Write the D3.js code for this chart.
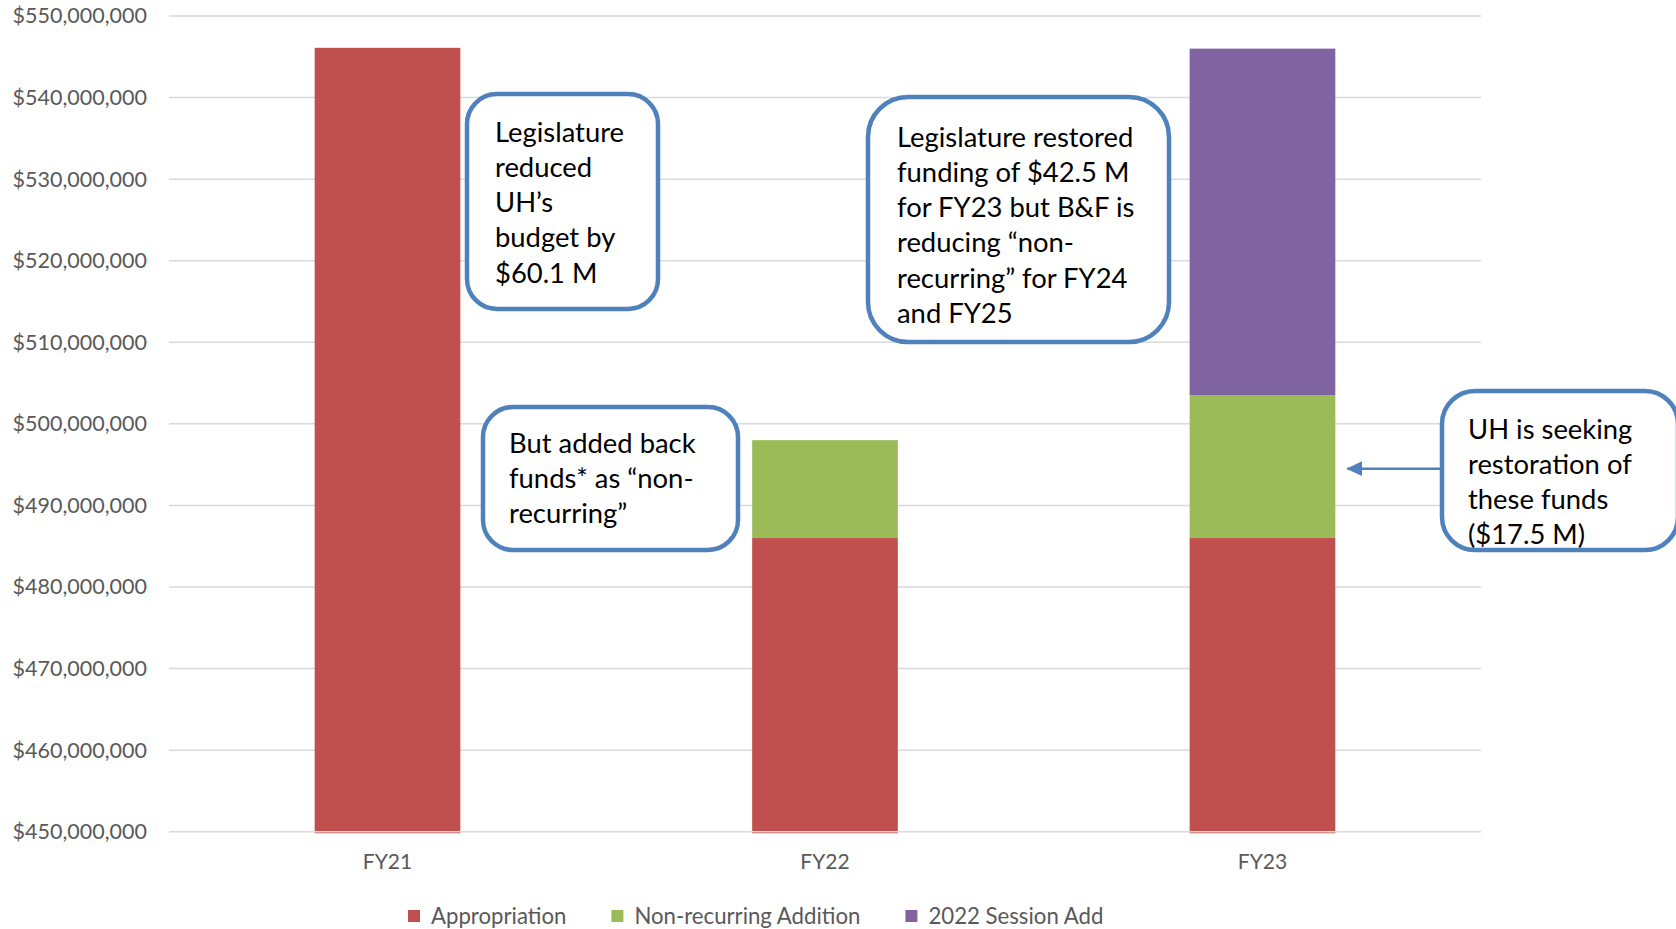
<!DOCTYPE html>
<html>
<head>
<meta charset="utf-8">
<script src="https://cdn.jsdelivr.net/npm/d3@7"></script>
<style>
  html, body { margin: 0; padding: 0; background: #fff; }
  svg { display: block; }
  text { font-family: Lato, "Open Sans", sans-serif; }
</style>
</head>
<body>
<svg id="chart" width="1676" height="929"></svg>
<script>
// ---- data (values in millions of dollars) ----
const categories = ["FY21", "FY22", "FY23"];
const appropriation = [546.1, 486.0, 486.0];
const nonRecurring = [0, 12.0, 17.5];
const sessionAdd = [0, 0, 42.5];
const seriesNames = ["Appropriation", "Non-recurring Addition", "2022 Session Add"];
const yTicks = [450, 460, 470, 480, 490, 500, 510, 520, 530, 540, 550];

const callout1 = ["Legislature", "reduced", "UH\u2019s", "budget by", "$60.1 M"];
const callout2 = ["Legislature restored", "funding of $42.5 M", "for FY23 but B&F is", "reducing \u201cnon-", "recurring\u201d for FY24", "and FY25"];
const callout3 = ["But added back", "funds* as \u201cnon-", "recurring\u201d"];
const callout4 = ["UH is seeking", "restoration of", "these funds", "($17.5 M)"];

// ---- layout ----
const colors = ["#C0504D", "#9BBB59", "#8064A2"];
const plot = { left: 169, right: 1481, top: 16, bottom: 831.7 };

const svg = d3.select("#chart");

const x = d3.scaleBand().domain(categories)
  .range([plot.left, plot.right]).paddingInner(0.667).paddingOuter(0.333);
const y = d3.scaleLinear().domain([450, 550]).range([plot.bottom, plot.top]);

// gridlines
svg.append("g").selectAll("line").data(yTicks.slice(1)).join("line")
  .attr("x1", plot.left).attr("x2", plot.right)
  .attr("y1", d => y(d)).attr("y2", d => y(d))
  .attr("stroke", "#D9D9D9").attr("stroke-width", 1.5);

// y axis labels
const yAxis = d3.axisLeft(y).tickValues(yTicks)
  .tickFormat(d => "$" + d3.format(",")(d * 1e6)).tickSize(0).tickPadding(0);
const yg = svg.append("g").attr("transform", `translate(147,0)`).call(yAxis);
yg.select(".domain").remove();
yg.selectAll("text").attr("fill", "#595959").style("font-size", "21.5px")
  .style("font-family", "Lato, sans-serif");

// stacked bars
const rows = categories.map((c, i) => ({ cat: c, a: appropriation[i], n: nonRecurring[i], s: sessionAdd[i] }));
const stack = d3.stack().keys(["a", "n", "s"]);
const stacked = stack(rows);
const base = 450;
svg.append("g").selectAll("g").data(stacked).join("g")
  .attr("fill", (d, i) => colors[i])
  .selectAll("rect").data(d => d.filter(p => p[1] - p[0] > 0)).join("rect")
  .attr("x", d => x(d.data.cat))
  .attr("width", x.bandwidth())
  .attr("y", d => y(d[1]))
  .attr("height", d => (d[0] === 0 ? y(base) + 1.6 : y(d[0])) - y(d[1]));

// baseline
svg.append("line").attr("x1", plot.left).attr("x2", plot.right)
  .attr("y1", y(base)).attr("y2", y(base))
  .attr("stroke", "#D9D9D9").attr("stroke-width", 1.5);

// x axis labels
const xAxis = d3.axisBottom(x).tickSize(0).tickPadding(0);
const xg = svg.append("g").attr("transform", `translate(0,${y(base) + 22})`).call(xAxis);
xg.select(".domain").remove();
xg.selectAll("text").attr("fill", "#595959").style("font-size", "21px")
  .style("font-family", "Lato, sans-serif");

// legend
const lg = svg.append("g").attr("transform", "translate(408,916)");
let lx = 0;
seriesNames.forEach((name, i) => {
  lg.append("rect").attr("x", lx).attr("y", -6).attr("width", 12).attr("height", 12).attr("fill", colors[i]);
  const t = lg.append("text").attr("x", lx + 23).attr("y", 0).attr("dy", "0.35em")
    .attr("fill", "#595959").style("font-size", "22.2px").text(name);
  lx += 23 + t.node().getComputedTextLength() + 45;
});

// arrow marker
svg.append("defs").append("marker").attr("id", "arrow")
  .attr("viewBox", "0 0 16 15").attr("refX", 15).attr("refY", 7.5)
  .attr("markerUnits", "userSpaceOnUse")
  .attr("markerWidth", 16).attr("markerHeight", 15).attr("orient", "auto")
  .append("path").attr("d", "M0,0 L16,7.5 L0,15 z").attr("fill", "#4F81BD");

// arrow from callout 4 to FY23 non-recurring segment
const arrowY = y(appropriation[2] + nonRecurring[2] / 2) + 2;
svg.append("line")
  .attr("x1", 1442).attr("x2", x("FY23") + x.bandwidth() + 12)
  .attr("y1", arrowY).attr("y2", arrowY)
  .attr("stroke", "#4F81BD").attr("stroke-width", 2.5)
  .attr("marker-end", "url(#arrow)");

// callouts
function callout(lines, box, tx, ty0, step) {
  const g = svg.append("g");
  g.append("rect").attr("x", box[0]).attr("y", box[1]).attr("width", box[2]).attr("height", box[3])
    .attr("rx", box[4]).attr("ry", box[4])
    .attr("fill", "#fff").attr("stroke", "#4F81BD").attr("stroke-width", 4.5);
  g.selectAll("text").data(lines).join("text")
    .attr("x", tx).attr("y", (d, i) => ty0 + i * step)
    .attr("dominant-baseline", "central")
    .attr("fill", "#000").style("font-size", "27.4px").text(d => d);
}
callout(callout1, [467, 94, 191, 215, 30], 495, 131, 35.3);
callout(callout2, [868, 97, 301, 245, 40], 897, 136, 35.3);
callout(callout3, [483, 407, 255, 143, 30], 509, 442, 35.3);
callout(callout4, [1442, 391, 236, 159, 33], 1468, 428, 35);
</script>
</body>
</html>
